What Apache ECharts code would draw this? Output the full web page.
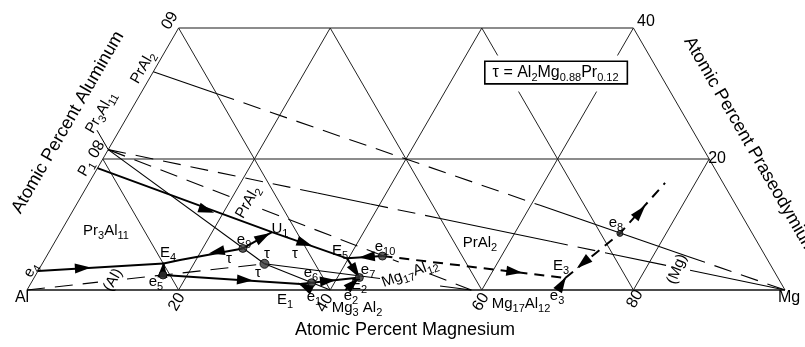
<!DOCTYPE html>
<html><head><meta charset="utf-8">
<script src="https://cdn.jsdelivr.net/npm/echarts@6.0.0/dist/echarts.min.js"></script>
<style>html,body{margin:0;padding:0;background:#fff}#chart{width:805px;height:347px}</style>
</head><body><div id="chart"></div>
<script>
// ===== DATA: ternary compositions as [Mg at.%, Pr at.%] =====
const phaseNames = ['Al', 'Mg', 'Pr3Al11', 'PrAl2', 'tau', 'Mg2Al3', 'Mg17Al12'];
const phaseMg = [0, 100, 0, 0, 29.33, 40, 58.62];
const phasePr = [0, 0, 21.43, 33.33, 4.0, 0, 0];

const ptNames = ['e4', 'E4', 'e5', 'e9', 'U1', 'P1', 'E5', 'e10', 'E2', 'e6', 'E1', 'e1', 'e2', 'e3', 'E3', 'e8', 'k4', 'e8end'];
const ptMg = [0, 16.0, 16.8, 25.3, 27.9, 0, 39.8, 44.3, 42.9, 37.0, 35.6, 37.5, 42.0, 70.05, 70.1, 73.9, 17.9, 76.0];
const ptPr = [2.9, 4.04, 2.29, 6.35, 8.84, 18.6, 4.83, 5.18, 1.9, 1.11, 0.91, 0, 0, 0, 1.83, 8.64, 4.57, 16.35];

// liquidus valleys (solid) and (dashed)
const valleys = [['e4', 'E4'], ['e5', 'E4'], ['E4', 'k4', 'e9'], ['e9', 'U1'], ['P1', 'U1', 'E5'], ['e10', 'E5'], ['E5', 'E2'],
  ['e5', 'E1'], ['e1', 'E1'], ['E1', 'e6', 'E2'], ['e2', 'E2'], ['e3', 'E3']];
const dashedValleys = [['e10', 'E3'], ['E3', 'e8', 'e8end']];

// arrows: position [Mg, Pr] and the point they head to
const arrowMg = [5.7, 16.4, 22.1, 27.1, 17.6, 33.1, 42.3, 41.9, 28.0, 36.4, 39.0, 42.5, 62.9, 70.08, 71.3, 74.9];
const arrowPr = [3.35, 3.1, 5.83, 8.1, 12.19, 7.11, 5.07, 2.85, 1.52, 0.55, 1.42, 1.0, 2.79, 0.95, 4.11, 11.93];
const arrowTo = ['E4', 'E4', 'k4', 'U1', 'U1', 'E5', 'E5', 'E2', 'E1', 'E1', 'E2', 'E2', 'E3', 'E3', 'E3', 'e8end'];

const dotPts = ['e5', 'e9', 'e6', 'E2', 'e10', 'e8'];

// tie lines between phases; breaks = fractions along the line, kinds: s solid, d dashed, g gap
const tieFrom = ['PrAl2', 'Pr3Al11', 'Pr3Al11', 'tau', 'tau', 'Al', 'Pr3Al11'];
const tieTo = ['Mg', 'Mg', 'tau', 'Mg2Al3', 'Mg17Al12', 'tau', 'Mg17Al12'];
const tieBreaks = [
  [0, 0.1008, 0.6122, 0.8464, 1],
  [0, 0.3089, 0.3872, 0.4906, 0.653, 0.7519, 0.8243, 0.8597, 1],
  [0, 1],
  [0, 1],
  [0, 0.5585, 0.8487, 1],
  [0, 0.299, 0.421, 1],
  [0, 0.3417, 0.4242, 0.8, 0.885, 1]
];
const tieKinds = [
  ['s', 'd', 's', 'd'],
  ['d', 's', 'd', 's', 'd', 's', 'g', 's'],
  ['s'],
  ['s'],
  ['s', 'g', 's'],
  ['d', 'g', 'd'],
  ['d', 'g', 'd', 'g', 'd']
];

// text labels
const labelText = ['Pr{s|3}Al{s|11}', 'PrAl{s|2}', 'PrAl{s|2}', 'PrAl{s|2}', 'Pr{s|3}Al{s|11}', 'P{s|1}', '(Al)', '(Mg)',
  'Mg{s|17}Al{s|12}', 'Mg{s|17}Al{s|12}', 'Mg{s|3} Al{s|2}', 'E{s|1}', 'e{s|1}', 'e{s|2}', 'E{s|2}', 'e{s|7}', 'e{s|6}',
  'E{s|5}', 'e{s|10}', 'U{s|1}', 'e{s|9}', 'τ', 'τ', 'τ', 'τ', 'E{s|4}', 'e{s|5}', 'e{s|4}', 'E{s|3}', 'e{s|3}', 'e{s|8}'];
const labelMg = [5.93, 56.18, 22.45, -1.69, -3.8, -1.51, 10.59, 84.15, 49.23, 66.24, 44.91, 34.8, 38.39, 43.2, 43.42, 43.47, 36.17,
  38.32, 43.95, 28.73, 24.82, 24.29, 28.88, 32.56, 29.17, 15.78, 16.41, -0.99, 68.62, 70.38, 72.6];
const labelPr = [8.99, 7.16, 13.41, 33.97, 27.12, 18.59, 1.52, 3.2, 2.59, -2.13, -2.74, -1.52, -1.07, -0.91, 0.76, 3.05, 2.59,
  5.94, 6.55, 9.29, 7.62, 4.72, 5.56, 5.59, 2.59, 5.64, 1.22, 3.05, 3.66, -0.91, 10.21];
const labelRot = [0, 0, 60, 60, 60, 60, 60, 68, 20, 0, 0, 0, 0, 0, 0, 0, 0, 0, 0, 0, 0, 0, 0, 0, 0, 0, 0, 60, 0, 0, 0];

// axis tick labels
const tickText = ['20', '40', '60', '80', '60', '80', '40', '20', 'Al', 'Mg'];
const tickMg = [20.7, 40.3, 60.8, 80.9, -2.04, -1.85, 61.17, 80.98, -0.05, 101.14];
const tickPr = [-1.83, -1.98, -1.83, -1.37, 41.29, 21.63, 40.98, 20.11, -1.22, -1.22];
const tickRot = [60, 60, 60, 60, -120, -120, 0, 0, 0, 0];

const titleText = ['Atomic Percent Magnesium', 'Atomic Percent Aluminum', 'Atomic Percent Praseodymium'];
const titleMg = [52.92, -7.39, 84.33];
const titlePr = [-6.09, 25.59, 22.09];
const titleRot = [0, 60, -60];

const boxText = 'τ = Al{s|2}Mg{s|0.88}Pr{s|0.12}';
const boxMg = 53.2, boxPr = 33.2;

// ===== helpers =====
const S = Math.sqrt(3) / 2;
const xy = (mg, pr) => [mg + pr / 2, pr * S];
const P = name => {
  let i = ptNames.indexOf(name);
  if (i >= 0) return [ptMg[i], ptPr[i]];
  i = phaseNames.indexOf(name);
  return [phaseMg[i], phasePr[i]];
};
const FONT = '"Liberation Sans", Arial, sans-serif';
const series = [];
function line(pts, opt) {
  series.push({
    type: 'line', data: pts.map(p => xy(p[0], p[1])), showSymbol: false, silent: true, clip: false,
    animation: false, z: opt.z || 2,
    lineStyle: { color: opt.color || '#000', width: opt.width || 1, type: opt.dash || 'solid', cap: 'butt' }
  });
}
// triangular grid (Pr <= 40)
const gridCol = '#222';
line([[0, 0], [100, 0]], { color: '#111', width: 1.4 });
line([[0, 20], [80, 20]], { color: '#666', width: 1.6 });
line([[0, 40], [60, 40]], { color: '#666', width: 1.6 });
line([[0, 0], [0, 40]], { color: gridCol });
line([[100, 0], [60, 40]], { color: gridCol });
line([[20, 0], [20, 40]], { color: gridCol });
line([[40, 0], [40, 40]], { color: gridCol });
line([[60, 0], [60, 30.3]], { color: gridCol });
line([[60, 35.8], [60, 40]], { color: gridCol });
line([[80, 0], [80, 20]], { color: gridCol });
line([[20, 0], [0, 20]], { color: gridCol });
line([[40, 0], [0, 40]], { color: gridCol });
line([[60, 0], [20, 40]], { color: gridCol });
line([[80, 0], [80 - 30.3, 30.3]], { color: gridCol });
line([[80 - 35.8, 35.8], [40, 40]], { color: gridCol });

// tie lines
tieFrom.forEach((f, i) => {
  const a = P(f), b = P(tieTo[i]), br = tieBreaks[i];
  const at = t => [a[0] + (b[0] - a[0]) * t, a[1] + (b[1] - a[1]) * t];
  tieKinds[i].forEach((k, j) => {
    if (k === 'g') return;
    line([at(br[j]), at(br[j + 1])], { dash: k === 'd' ? [18, 10] : 'solid', width: 1.1 });
  });
});
// Pr3Al11 label leader
line([[-2.97, 24.4], P('Pr3Al11')], {});

// valleys
valleys.forEach(v => line(v.map(P), { width: 2, z: 3 }));
dashedValleys.forEach(v => line(v.map(P), { width: 2, dash: [10, 7], z: 3 }));

// arrows
series.push({
  type: 'custom', silent: true, animation: false, clip: false, z: 5,
  data: arrowMg.map((m, i) => { const a = xy(m, arrowPr[i]); const b = xy(...P(arrowTo[i])); return [a[0], a[1], b[0], b[1]]; }),
  renderItem: (params, api) => {
    const a = api.coord([api.value(0), api.value(1)]);
    const b = api.coord([api.value(2), api.value(3)]);
    const dx = b[0] - a[0], dy = b[1] - a[1], L = Math.hypot(dx, dy) || 1;
    const ux = dx / L, uy = dy / L, len = 16, hw = 5;
    const tip = [a[0] + ux * len / 2, a[1] + uy * len / 2];
    const bk = [a[0] - ux * len / 2, a[1] - uy * len / 2];
    return { type: 'polygon', shape: { points: [tip, [bk[0] - uy * hw, bk[1] + ux * hw], [bk[0] + uy * hw, bk[1] - ux * hw]] }, style: { fill: '#000' } };
  }
});
// dots
series.push({
  type: 'scatter', silent: true, animation: false, z: 6, clip: false,
  data: dotPts.map(n => xy(...P(n))).concat([xy(...P('tau'))]),
  symbolSize: (v, p) => p.dataIndex === 5 ? 6 : (p.dataIndex === 6 ? 9 : 8),
  itemStyle: { color: '#333', borderColor: '#000', borderWidth: 1 }
});

// texts
function texts(arrT, arrM, arrP, arrR, size, sub, extra) {
  series.push({
    type: 'custom', silent: true, animation: false, clip: false, z: 7,
    data: arrT.map((t, i) => { const c = xy(arrM[i], arrP[i]); return [c[0], c[1], i]; }),
    renderItem: (params, api) => {
      const c = api.coord([api.value(0), api.value(1)]);
      const i = api.value(2);
      return {
        type: 'text', x: c[0], y: c[1], rotation: (arrR ? arrR[i] : 0) * Math.PI / 180,
        style: Object.assign({
          text: arrT[i], fontSize: size, fontFamily: FONT, fill: '#000', align: 'center', verticalAlign: 'middle',
          rich: { s: { fontSize: sub, fontFamily: FONT, fill: '#000', padding: [Math.round(sub * 0.9), 0, 0, 0] } }
        }, extra || {})
      };
    }
  });
}
texts(labelText, labelMg, labelPr, labelRot, 15, 11);
texts(tickText, tickMg, tickPr, tickRot, 16, 11);
texts(titleText, titleMg, titlePr, titleRot, 18, 12);
texts([boxText], [boxMg], [boxPr], [0], 16, 11, { borderColor: '#000', borderWidth: 1.6, padding: [0, 8, 0, 7], backgroundColor: '#fff' });

const chart = echarts.init(document.getElementById('chart'), null, { renderer: 'canvas' });
chart.setOption({
  animation: false,
  grid: { left: 27, right: 20, top: 28, bottom: 57 },
  xAxis: { type: 'value', min: 0, max: 100, show: false },
  yAxis: { type: 'value', min: 0, max: 40 * S, show: false },
  series
});
</script></body></html>
